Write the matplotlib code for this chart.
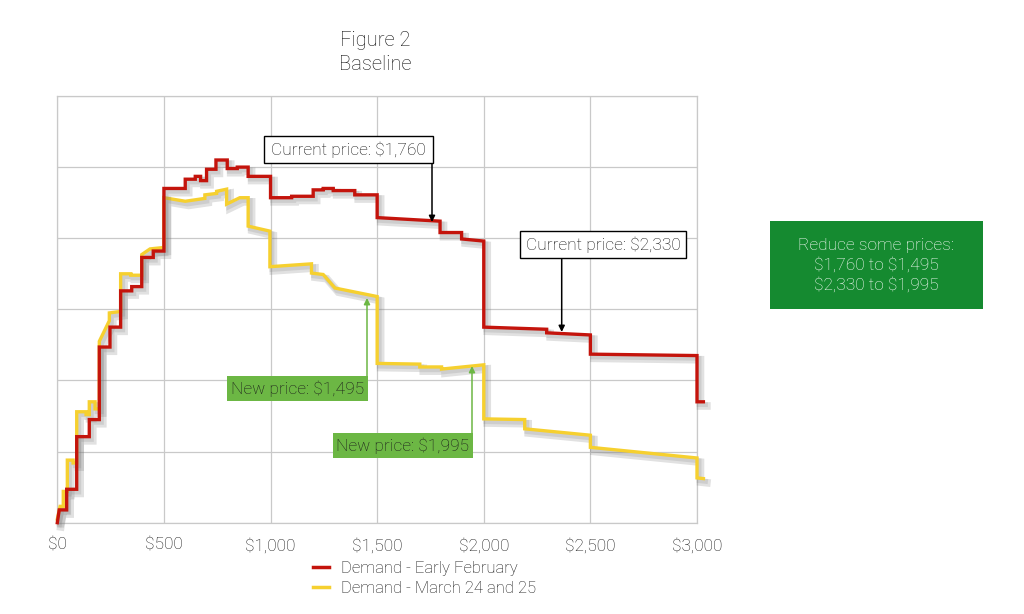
import matplotlib
matplotlib.use("Agg")
import matplotlib.pyplot as plt
import matplotlib.patheffects as pe

plt.rcParams['font.family'] = ['Roboto', 'DejaVu Sans']
plt.rcParams['font.weight'] = 'light'
plt.rcParams['text.parse_math'] = False

# ---- data: each segment starts at a price, with demand at its start and at its end ----
price_feb = [0, 9, 44, 91, 150, 197, 247, 297, 349, 396, 450, 500, 600, 647, 672, 700,
             744, 797, 844, 895, 1000, 1099, 1200, 1247, 1294, 1395, 1500, 1795, 1896,
             2000, 2295, 2500, 3000, 3030]
feb_start = [0.0, 1.8, 4.7, 12.1, 14.5, 24.7, 27.5, 32.6, 33.2, 37.3, 38.2, 47.0, 48.3,
             48.7, 48.1, 49.7, 51.0, 49.8, 50.0, 48.7, 45.7, 45.9, 46.8, 47.0, 46.7, 46.1,
             42.9, 40.8, 39.9, 27.5, 26.7, 23.7, 17.0]
feb_end = [1.8, 1.8, 4.7, 12.1, 14.5, 24.7, 27.5, 32.6, 33.2, 37.3, 38.2, 47.0, 48.3,
           48.7, 48.1, 49.7, 51.0, 49.8, 50.0, 48.7, 45.7, 45.9, 46.8, 47.0, 46.7, 46.1,
           42.4, 40.8, 39.6, 27.2, 26.4, 23.5, 17.0]

price_mar = [0, 13, 28, 47, 74, 91, 135, 150, 177, 197, 244, 297, 345, 396, 435, 500, 600,
             692, 747, 794, 856, 895, 997, 1192, 1247, 1302, 1500, 1700, 1802, 2000, 2192,
             2500, 3000, 3030]
mar_start = [0.5, 2.3, 4.4, 8.8, 8.4, 15.6, 15.2, 17.0, 16.0, 25.5, 29.5, 35.0, 34.8, 37.7,
             38.5, 45.7, 45.2, 46.1, 46.6, 44.8, 45.7, 41.7, 36.0, 35.1, 34.9, 33.0, 22.4,
             21.9, 21.6, 14.6, 13.2, 10.6, 6.3]
mar_end = [2.3, 2.3, 4.4, 8.8, 8.4, 15.6, 15.2, 17.0, 16.0, 28.4, 29.7, 35.0, 34.8, 38.5,
           38.7, 45.2, 45.6, 46.3, 46.9, 45.7, 45.7, 41.0, 36.4, 34.9, 33.0, 31.8, 22.3,
           21.9, 22.2, 14.5, 12.3, 9.1, 6.2]

xticks = [0, 500, 1000, 1500, 2000, 2500, 3000]
xtick_labels = ["$0", "$500", "$1,000", "$1,500", "$2,000", "$2,500", "$3,000"]
yticks = [0, 10, 20, 30, 40, 50, 60]

label_feb = "Demand - Early February"
label_mar = "Demand - March 24 and 25"

RED = "#c4140c"
YEL = "#f6d02f"
GRID = "#c9c9c9"
TXT = "#151515"


def segments_to_path(prices, starts, ends):
    xs, ys = [], []
    for i in range(len(starts)):
        xs += [prices[i], prices[i + 1]]
        ys += [starts[i], ends[i]]
    return xs, ys


fig = plt.figure(figsize=(10.24, 6.14), dpi=100)
W, H = 1024, 614
ax = fig.add_axes([57.3 / W, (H - 522.7) / H, (697 - 57.3) / W, (522.7 - 96) / H])
ax.set_xlim(0, 3000)
ax.set_ylim(0, 60)
ax.set_xticks(xticks)
ax.set_xticklabels(xtick_labels, fontsize=12.5, color=TXT)
ax.set_yticks(yticks)
ax.set_yticklabels([])
ax.tick_params(length=0, pad=11)
ax.grid(True, color=GRID, linewidth=0.9)
ax.set_axisbelow(True)
for s in ax.spines.values():
    s.set_color(GRID)
    s.set_linewidth(0.9)

shadow = [pe.SimpleLineShadow(offset=(2.5, -3), shadow_color="#777777", alpha=0.22, linewidth=5.5),
          pe.SimpleLineShadow(offset=(1.5, -2), shadow_color="#777777", alpha=0.18, linewidth=3.5),
          pe.Normal()]
fx, fy = segments_to_path(price_feb, feb_start, feb_end)
mx, my = segments_to_path(price_mar, mar_start, mar_end)
l1, = ax.plot(fx, fy, color=RED, lw=2.4, solid_joinstyle="miter", clip_on=False,
              path_effects=shadow, label=label_feb, zorder=4)
l2, = ax.plot(mx, my, color=YEL, lw=2.4, solid_joinstyle="miter", clip_on=False,
              path_effects=shadow, label=label_mar, zorder=3)

# legend
leg = fig.legend(handles=[l1, l2], loc="upper left", bbox_to_anchor=(306 / W, 1 - 554 / H),
                 frameon=False, fontsize=12, handlelength=1.0, handletextpad=0.7,
                 labelspacing=0.3, borderaxespad=0)
for h in leg.legend_handles:
    h.set_path_effects([])
    h.set_linewidth(2.5)
for t in leg.get_texts():
    t.set_color(TXT)

# title
fig.text(375 / W, 1 - 40 / H, "Figure 2", ha="center", va="center", fontsize=14.5, color="#111111")
fig.text(375 / W, 1 - 65 / H, "Baseline", ha="center", va="center", fontsize=14.5, color="#111111")


def px2data(px, py):
    x = (px - 57.3) / (697 - 57.3) * 3000
    y = (522.7 - py) / (522.7 - 96) * 60
    return x, y


def box(x0, y0, x1, y1, text, fc, ec, tc, fs=12.5, lw=0.0, weight="light"):
    fig.patches.append(plt.Rectangle((x0 / W, 1 - y1 / H), (x1 - x0) / W, (y1 - y0) / H,
                                     transform=fig.transFigure, facecolor=fc, edgecolor=ec,
                                     linewidth=lw, zorder=10))
    fig.text((x0 + x1) / 2 / W, 1 - (y0 + y1) / 2 / H, text, ha="center", va="center",
             fontsize=fs, color=tc, zorder=11, linespacing=1.3, fontweight=weight)


def arrow(px, py0, py1, color, lw):
    ax.annotate("", xy=px2data(px, py1), xytext=px2data(px, py0),
                arrowprops=dict(arrowstyle="-|>", color=color, lw=lw, mutation_scale=9,
                                shrinkA=0, shrinkB=0), annotation_clip=False, zorder=6)


# current price boxes (black)
box(264, 136, 433, 163, "Current price: $1,760", "white", "black", "#111111", lw=1.0)
arrow(432, 163, 222, "black", 1.1)
box(520, 231, 686, 258, "Current price: $2,330", "white", "black", "#111111", lw=1.0)
arrow(561.7, 258, 332, "black", 1.1)

# new price boxes (green)
GREEN_L = "#6cb744"
box(227, 376, 368, 401, "New price: $1,495", GREEN_L, GREEN_L, "#1a1a1a")
arrow(367, 376, 298, GREEN_L, 1.1)
box(333, 433, 473, 458, "New price: $1,995", GREEN_L, GREEN_L, "#1a1a1a")
arrow(472, 433, 366, GREEN_L, 1.1)

# summary box
box(770, 221, 983, 309, "Reduce some prices:\n$1,760 to $1,495\n$2,330 to $1,995",
    "#158a30", "#158a30", "#ffffff", fs=12.5)

fig.savefig("out.png", dpi=100)
